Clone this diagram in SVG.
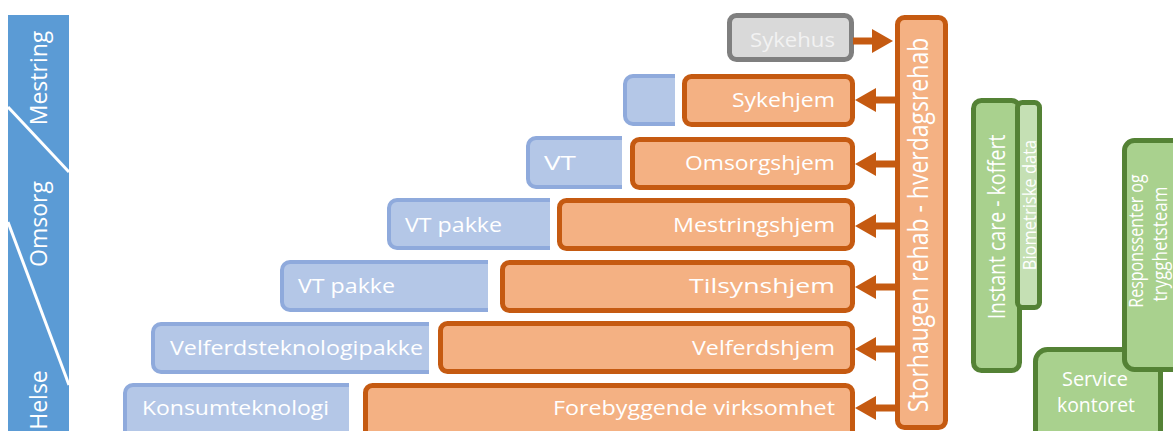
<svg xmlns="http://www.w3.org/2000/svg" width="1173" height="431" viewBox="0 0 1173 431">
<defs>
<style>
.t{font-family:"Open Sans","Liberation Sans",sans-serif;font-size:20px;fill:#ffffff}
.ob{fill:#f4b183;stroke:#c55a11;stroke-width:5}
.bb{fill:#b4c7e7;stroke:#8faadc;stroke-width:4}
.gb{fill:#a9d18e;stroke:#548235;stroke-width:5}
.gl{fill:#c5e0b4;stroke:#548235;stroke-width:5}
.ar{stroke:#c55a11;stroke-width:7;fill:none;marker-end:url(#ah)}
</style>
<marker id="ah" viewBox="0 0 21 24" markerWidth="21" markerHeight="24" refX="6" refY="12" orient="auto" markerUnits="userSpaceOnUse">
<path d="M0,0 L21,12 L0,24 z" fill="#c55a11"/>
</marker>
</defs>
<rect width="1173" height="431" fill="#ffffff"/>

<g id="phases">
<rect x="8" y="15" width="61" height="420" fill="#5b9bd5"/>
<line x1="8" y1="107" x2="69" y2="172" stroke="#ffffff" stroke-width="3"/>
<line x1="8" y1="222" x2="69" y2="385" stroke="#ffffff" stroke-width="3"/>
<text class="t" text-anchor="middle" transform="translate(47,78) rotate(-90) scale(1,1.05)" style="font-size:23px">Mestring</text>
<text class="t" text-anchor="middle" transform="translate(47,224) rotate(-90) scale(1,1.05)" style="font-size:23px">Omsorg</text>
<text class="t" text-anchor="middle" transform="translate(47,400) rotate(-90) scale(1,1.05)" style="font-size:23px">Helse</text>
</g>

<g id="blue-sykehjem"><path class="bb" d="M675,76 H633 A8 8 0 0 0 625,84 V116 A8 8 0 0 0 633,124 H675"/></g>
<g id="blue-vt"><path class="bb" d="M622,138 H536 A8 8 0 0 0 528,146 V179 A8 8 0 0 0 536,187 H622"/>
<text class="t" x="544" y="170" textLength="32" lengthAdjust="spacingAndGlyphs">VT</text></g>
<g id="blue-vtpakke1"><path class="bb" d="M550,200 H397 A8 8 0 0 0 389,208 V240 A8 8 0 0 0 397,248 H550"/>
<text class="t" x="405" y="232" textLength="97" lengthAdjust="spacingAndGlyphs">VT pakke</text></g>
<g id="blue-vtpakke2"><path class="bb" d="M488,262 H290 A8 8 0 0 0 282,270 V302 A8 8 0 0 0 290,310 H488"/>
<text class="t" x="298" y="293" textLength="97" lengthAdjust="spacingAndGlyphs">VT pakke</text></g>
<g id="blue-velferdsteknologipakke"><path class="bb" d="M429,324 H161 A8 8 0 0 0 153,332 V364 A8 8 0 0 0 161,372 H429"/>
<text class="t" x="170" y="355" textLength="253" lengthAdjust="spacingAndGlyphs">Velferdsteknologipakke</text></g>
<g id="blue-konsumteknologi"><path class="bb" d="M349,385 H133 A8 8 0 0 0 125,393 V432 A8 8 0 0 0 133,440 H349"/>
<text class="t" x="142" y="415" textLength="187" lengthAdjust="spacingAndGlyphs">Konsumteknologi</text></g>

<g id="sykehus"><rect x="729.5" y="15.5" width="122" height="44" rx="7" fill="#d9d9d9" stroke="#7f7f7f" stroke-width="5"/>
<text class="t" x="835" y="47" text-anchor="end" textLength="85" lengthAdjust="spacingAndGlyphs" style="fill:#f2f2f2">Sykehus</text></g>
<g id="sykehjem"><rect class="ob" x="684.5" y="76.5" width="168" height="48" rx="7"/>
<text class="t" x="835" y="107" text-anchor="end" textLength="103" lengthAdjust="spacingAndGlyphs">Sykehjem</text></g>
<g id="omsorgshjem"><rect class="ob" x="632.5" y="139.5" width="220" height="48" rx="7"/>
<text class="t" x="835" y="170" text-anchor="end" textLength="150" lengthAdjust="spacingAndGlyphs">Omsorgshjem</text></g>
<g id="mestringshjem"><rect class="ob" x="559.5" y="200.5" width="293" height="48" rx="7"/>
<text class="t" x="835" y="232" text-anchor="end" textLength="162" lengthAdjust="spacingAndGlyphs">Mestringshjem</text></g>
<g id="tilsynshjem"><rect class="ob" x="502.5" y="262.5" width="350" height="48" rx="7"/>
<text class="t" x="835" y="293" text-anchor="end" textLength="146" lengthAdjust="spacingAndGlyphs">Tilsynshjem</text></g>
<g id="velferdshjem"><rect class="ob" x="440.5" y="323.5" width="412" height="48" rx="7"/>
<text class="t" x="835" y="355" text-anchor="end" textLength="143" lengthAdjust="spacingAndGlyphs">Velferdshjem</text></g>
<g id="forebyggende"><rect class="ob" x="365.5" y="385.5" width="487" height="55" rx="7"/>
<text class="t" x="835" y="415" text-anchor="end" textLength="282" lengthAdjust="spacingAndGlyphs">Forebyggende virksomhet</text></g>

<g id="storhaugen"><rect class="ob" x="897.5" y="17.5" width="48" height="410" rx="7"/>
<text class="t" text-anchor="middle" transform="translate(928,225) rotate(-90) scale(1,1.2)" style="font-size:23px">Storhaugen rehab - hverdagsrehab</text></g>

<g id="connectors">
<line class="ar" x1="853" y1="41" x2="878" y2="41"/>
<line class="ar" x1="897" y1="100" x2="870" y2="100"/>
<line class="ar" x1="897" y1="164" x2="870" y2="164"/>
<line class="ar" x1="897" y1="226" x2="870" y2="226"/>
<line class="ar" x1="897" y1="287" x2="870" y2="287"/>
<line class="ar" x1="897" y1="349" x2="870" y2="349"/>
<line class="ar" x1="897" y1="408" x2="870" y2="408"/>
</g>

<g id="instant-care"><rect class="gb" x="973.5" y="100.5" width="46" height="270" rx="8"/>
<text class="t" text-anchor="middle" transform="translate(1005,227) rotate(-90) scale(1,1.2)" style="font-size:19.5px">Instant care - koffert</text></g>
<g id="biometriske"><rect class="gl" x="1017.5" y="102.5" width="22" height="205" rx="5"/>
<text class="t" text-anchor="middle" transform="translate(1036,205) rotate(-90) scale(1,1.05)" style="font-size:16.5px">Biometriske data</text></g>
<g id="service-kontoret"><rect class="gb" x="1035.5" y="349.5" width="125" height="95" rx="12"/>
<text class="t" x="1095" y="386" text-anchor="middle" textLength="66" lengthAdjust="spacingAndGlyphs">Service</text>
<text class="t" x="1096" y="412" text-anchor="middle" textLength="78" lengthAdjust="spacingAndGlyphs">kontoret</text></g>
<g id="responssenter"><rect class="gb" x="1124.5" y="140.5" width="60" height="229" rx="10"/>
<text class="t" text-anchor="middle" transform="translate(1143,241) rotate(-90) scale(1,1.2)" style="font-size:16px">Responssenter og</text>
<text class="t" text-anchor="middle" transform="translate(1167,244) rotate(-90) scale(1,1.2)" style="font-size:17px">trygghetsteam</text></g>
</svg>
